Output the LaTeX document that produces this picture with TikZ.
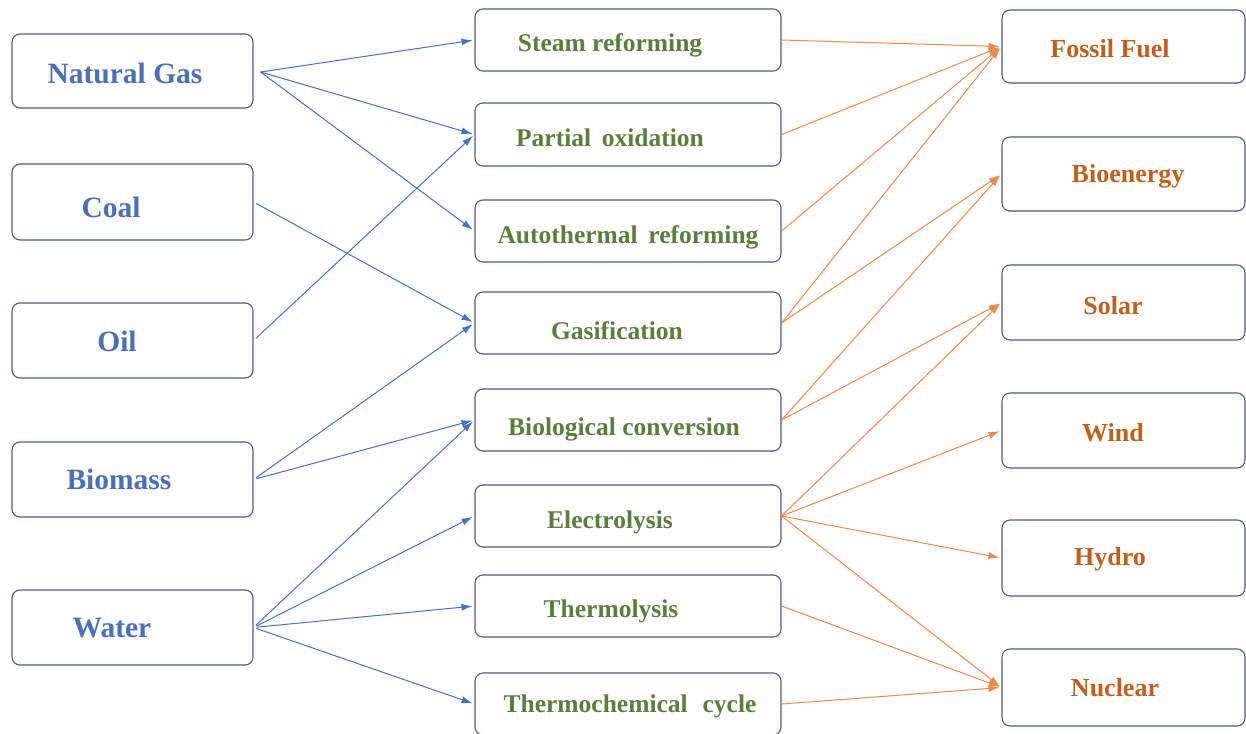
\documentclass[tikz,border=0pt]{standalone}
\usepackage{fontspec}
\setmainfont{Liberation Serif}
\usetikzlibrary{arrows.meta,calc}
\definecolor{bord}{HTML}{4F5D73}
\definecolor{tblue}{HTML}{4A70B8}
\definecolor{tgreen}{HTML}{5A7F3C}
\definecolor{torange}{HTML}{C0601C}
\definecolor{ablue}{HTML}{4472C4}
\definecolor{aorange}{HTML}{ED8A4A}
\tikzset{
  box/.style={draw=bord, line width=1.1pt, rounded corners=8pt, fill=white, inner sep=0pt},
  lbox/.style={box, minimum width=241pt, minimum height=74pt},
  mbox/.style={box, minimum width=306pt, minimum height=62pt},
  rbox/.style={box, minimum width=243pt, minimum height=74pt},
  ltxt/.style={font=\bfseries\fontsize{29.5}{31}\selectfont, text=tblue, inner sep=0pt},
  mtxt/.style={font=\bfseries\fontsize{25.5}{28}\selectfont, text=tgreen, inner sep=0pt},
  rtxt/.style={font=\bfseries\fontsize{26}{28}\selectfont, text=torange, inner sep=0pt},
  barr/.style={draw=ablue, line width=1pt, -{Latex[length=11pt,width=7pt]}, shorten <=3pt, shorten >=2pt},
  oarr/.style={draw=aorange, line width=1pt, -{Latex[length=11pt,width=7pt]}, shorten >=2pt}
}
\begin{document}
\begin{tikzpicture}[x=1pt,y=-1pt]
\useasboundingbox (0,0) rectangle (1246,733);
\begin{scope}
\clip (0,0) rectangle (1246,733);
% left boxes
\node[lbox] (ng) at (132.5,71) {};
\node[lbox, minimum height=76pt] (coal) at (132.5,202) {};
\node[lbox, minimum height=75pt] (oil) at (132.5,340.5) {};
\node[lbox, minimum height=75pt] (bio) at (132.5,479.5) {};
\node[lbox, minimum height=75pt] (water) at (132.5,627.5) {};
% middle boxes
\node[mbox] (sr) at (628,40) {};
\node[mbox, minimum height=63pt] (po) at (628,134.5) {};
\node[mbox] (at) at (628,231) {};
\node[mbox] (ga) at (628,323) {};
\node[mbox] (bc) at (628,420) {};
\node[mbox] (el) at (628,516) {};
\node[mbox] (tl) at (628,606) {};
\node[mbox] (tc) at (628,704) {};
% right boxes
\node[rbox, minimum height=73pt] (ff) at (1123.5,46.5) {};
\node[rbox] (be) at (1123.5,174) {};
\node[rbox, minimum height=75pt] (so) at (1123.5,302.5) {};
\node[rbox, minimum height=75pt] (wi) at (1123.5,430.5) {};
\node[rbox, minimum height=76pt] (hy) at (1123.5,558) {};
\node[rbox, minimum height=77pt] (nu) at (1123.5,687.5) {};
\end{scope}
% texts
\node[ltxt] (tng) at (125,73) {Natural Gas};
\node[ltxt] (tcoal) at (111,207) {Coal};
\node[ltxt] (toil) at (117,341) {Oil};
\node[ltxt] (tbio) at (119,479) {Biomass};
\node[ltxt] (twater) at (112,628) {Water};
\node[mtxt] (tsr) at (610,45) {Steam reforming};
\node[mtxt] (tpo) at (610,138) {Partial\, oxidation};
\node[mtxt] (tat) at (628,237) {Autothermal\, reforming};
\node[mtxt] (tga) at (617,331) {Gasification};
\node[mtxt] (tbc) at (624,429) {Biological conversion};
\node[mtxt] (tel) at (610,522) {Electrolysis};
\node[mtxt] (ttl) at (611,611) {Thermolysis};
\node[mtxt] (ttc) at (630,706) {Thermochemical\,\, cycle};
\node[rtxt] (tff) at (1110,49) {Fossil Fuel};
\node[rtxt] (tbe) at (1128,176) {Bioenergy};
\node[rtxt] (tso) at (1113,306) {Solar};
\node[rtxt] (twi) at (1113,433) {Wind};
\node[rtxt] (thy) at (1110,559) {Hydro};
\node[rtxt] (tnu) at (1115,688) {Nuclear};
% blue arrows
\coordinate (ngo) at ($(ng.east)+(7,1)$);
\draw[barr, shorten <=0pt] (ngo) -- (sr.west);
\draw[barr, shorten <=0pt] (ngo) -- (po.west);
\draw[barr, shorten <=0pt] (ngo) -- (at.west);
\draw[barr] (coal.east) -- (ga.west);
\draw[barr] (oil.east) -- (po.west);
\draw[barr] (bio.east) -- (ga.west);
\draw[barr] (bio.east) -- (bc.west);
\draw[barr] (water.east) -- (bc.west);
\draw[barr] (water.east) -- (el.west);
\draw[barr] (water.east) -- (tl.west);
\draw[barr] (water.east) -- (tc.west);
% orange arrows
\draw[oarr] (sr.east) -- (ff.west);
\draw[oarr] (po.east) -- (ff.west);
\draw[oarr] (at.east) -- (ff.west);
\draw[oarr] (ga.east) -- (ff.west);
\draw[oarr] (ga.east) -- (be.west);
\draw[oarr] (bc.east) -- (be.west);
\draw[oarr] (bc.east) -- (so.west);
\draw[oarr] (el.east) -- (so.west);
\draw[oarr] (el.east) -- (wi.west);
\draw[oarr] (el.east) -- (hy.west);
\draw[oarr] (el.east) -- (nu.west);
\draw[oarr] (tl.east) -- (nu.west);
\draw[oarr] (tc.east) -- (nu.west);
\end{tikzpicture}
\end{document}
